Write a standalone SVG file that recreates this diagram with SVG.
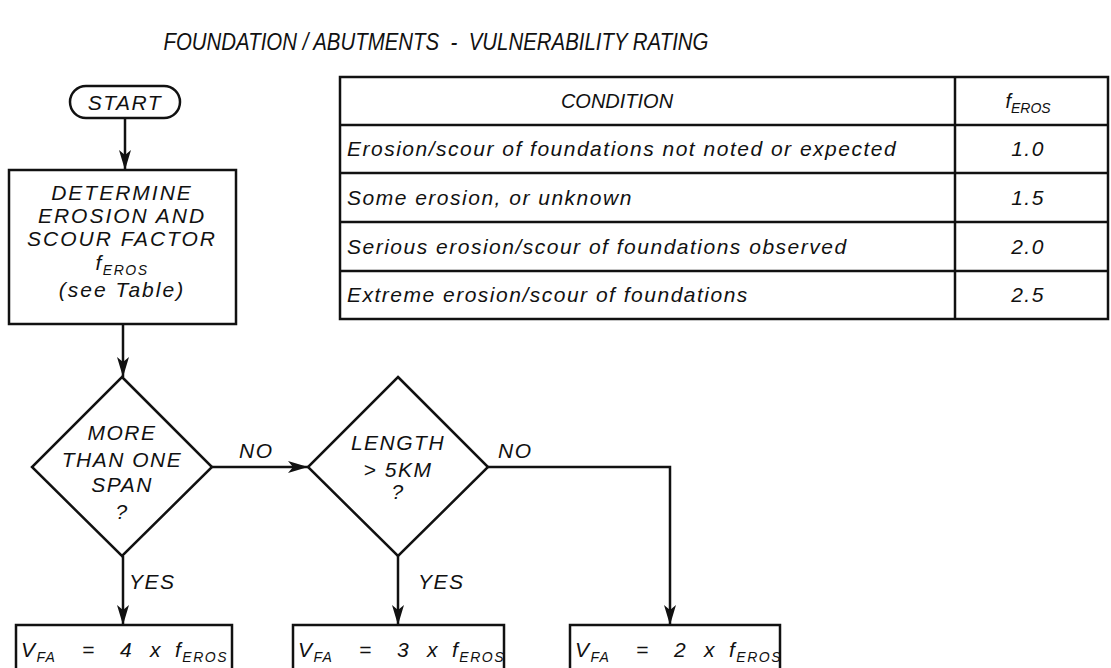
<svg xmlns="http://www.w3.org/2000/svg" width="1111" height="668" viewBox="0 0 1111 668">
<defs>
<style>
text{font-family:"Liberation Sans",Arial,sans-serif;font-style:italic;fill:#111}
.t{font-size:21px;letter-spacing:1.5px}
.c{text-anchor:middle}
.sub{font-size:14px}
.box{fill:#fff;stroke:#111;stroke-width:2.5}
.ln{fill:none;stroke:#111;stroke-width:2.5}
.tb{fill:none;stroke:#111;stroke-width:2.5}
</style>
<marker id="ah" markerUnits="userSpaceOnUse" markerWidth="22" markerHeight="12" refX="20" refY="6" orient="auto"><path d="M0,0 L20,6 L0,12 L5,6 z" fill="#111"/></marker>
</defs>
<rect width="1111" height="668" fill="#fff"/>
<text id="title" x="436" y="50" class="c" style="font-size:23px" textLength="545" lengthAdjust="spacingAndGlyphs">FOUNDATION / ABUTMENTS&#160; - &#160;VULNERABILITY RATING</text>

<g id="table">
<rect class="tb" x="340" y="77" width="768" height="242"/>
<line class="tb" x1="955" y1="77" x2="955" y2="319"/>
<line class="tb" x1="340" y1="125" x2="1108" y2="125"/>
<line class="tb" x1="340" y1="173" x2="1108" y2="173"/>
<line class="tb" x1="340" y1="222" x2="1108" y2="222"/>
<line class="tb" x1="340" y1="271" x2="1108" y2="271"/>
<text x="617" y="108" class="c" style="font-size:20px">CONDITION</text>
<text x="1028" y="108" class="c" style="font-size:20px">f<tspan class="sub" dy="5">EROS</tspan></text>
<text x="347" y="156" class="t">Erosion/scour of foundations not noted or expected</text>
<text x="347" y="205" class="t">Some erosion, or unknown</text>
<text x="347" y="254" class="t">Serious erosion/scour of foundations observed</text>
<text x="347" y="302" class="t">Extreme erosion/scour of foundations</text>
<text x="1028" y="156" class="t c">1.0</text>
<text x="1028" y="205" class="t c">1.5</text>
<text x="1028" y="254" class="t c">2.0</text>
<text x="1028" y="302" class="t c">2.5</text>
</g>

<g id="connectors">
<line class="ln" x1="125" y1="118" x2="125" y2="170" marker-end="url(#ah)"/>
<line class="ln" x1="123" y1="324" x2="123" y2="377" marker-end="url(#ah)"/>
<line class="ln" x1="212" y1="467" x2="308" y2="467" marker-end="url(#ah)"/>
<line class="ln" x1="123" y1="556" x2="123" y2="625" marker-end="url(#ah)"/>
<line class="ln" x1="398" y1="556" x2="398" y2="625" marker-end="url(#ah)"/>
<polyline class="ln" points="488,467 670,467 670,625" marker-end="url(#ah)"/>
<text x="239" y="458" class="t">NO</text>
<text x="498" y="458" class="t">NO</text>
<text x="129" y="589" class="t">YES</text>
<text x="418" y="589" class="t">YES</text>
</g>

<g id="start">
<rect class="box" x="70" y="86" width="110" height="32" rx="16"/>
<text x="125" y="110" class="t c">START</text>
</g>

<g id="determine">
<rect class="box" x="9" y="170" width="227" height="154"/>
<text x="122" y="200" class="t c" style="letter-spacing:2px">DETERMINE</text>
<text x="122" y="223" class="t c" style="letter-spacing:2px">EROSION AND</text>
<text x="122" y="246" class="t c" style="letter-spacing:2px">SCOUR FACTOR</text>
<text x="122" y="270" class="t c">f<tspan class="sub" dy="5">EROS</tspan></text>
<text x="122" y="297" class="t c" style="letter-spacing:2px">(see Table)</text>
</g>

<g id="span">
<polygon class="box" points="122,377 212,467 122,556 32,467"/>
<text x="122" y="440" class="t c">MORE</text>
<text x="122" y="467" class="t c">THAN ONE</text>
<text x="122" y="492" class="t c">SPAN</text>
<text x="122" y="519" class="t c">?</text>
</g>

<g id="length">
<polygon class="box" points="398,377 488,467 398,556 308,467"/>
<text x="398" y="450" class="t c">LENGTH</text>
<text x="398" y="477" class="t c">&gt; 5KM</text>
<text x="398" y="499" class="t c">?</text>
</g>

<g id="v4">
<rect class="box" x="16" y="625" width="216" height="60"/>
<text x="21" y="657" class="t">V<tspan class="sub" dy="5">FA</tspan><tspan x="82" y="657">=</tspan><tspan x="120" y="657">4</tspan><tspan x="150" y="657">x</tspan><tspan x="175" y="657">f</tspan><tspan class="sub" dy="5">EROS</tspan></text>
</g>

<g id="v3">
<rect class="box" x="293" y="625" width="211" height="60"/>
<text x="298" y="657" class="t">V<tspan class="sub" dy="5">FA</tspan><tspan x="359" y="657">=</tspan><tspan x="397" y="657">3</tspan><tspan x="427" y="657">x</tspan><tspan x="452" y="657">f</tspan><tspan class="sub" dy="5">EROS</tspan></text>
</g>

<g id="v2">
<rect class="box" x="570" y="625" width="210" height="60"/>
<text x="575" y="657" class="t">V<tspan class="sub" dy="5">FA</tspan><tspan x="636" y="657">=</tspan><tspan x="674" y="657">2</tspan><tspan x="704" y="657">x</tspan><tspan x="729" y="657">f</tspan><tspan class="sub" dy="5">EROS</tspan></text>
</g>
</svg>
